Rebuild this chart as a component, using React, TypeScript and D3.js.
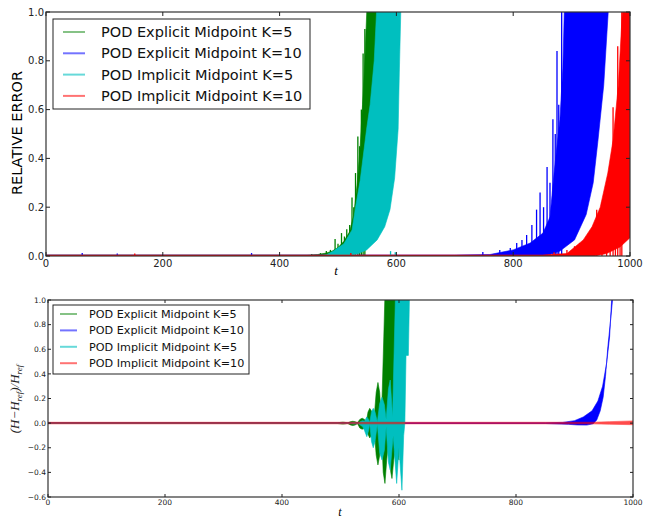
import React, { useEffect, useRef } from 'react';
import * as d3 from 'd3';

type Pt = [number, number];

const seriesNames = [
  'POD Explicit Midpoint K=5',
  'POD Explicit Midpoint K=10',
  'POD Implicit Midpoint K=5',
  'POD Implicit Midpoint K=10',
];
const seriesColors = ['#008000', '#0000ff', '#00bfbf', '#ff0000'];

const tTicks = [0, 200, 400, 600, 800, 1000];
const errTicks = [0.0, 0.2, 0.4, 0.6, 0.8, 1.0];
const hamTicks = [-0.6, -0.4, -0.2, 0.0, 0.2, 0.4, 0.6, 0.8, 1.0];

// top panel: relative error. solid part of each series (upper / lower edge) + isolated spikes [t, peak]
const errExp5Upper: Pt[] = [[0, 0.003], [447, 0.003], [465, 0.006], [480, 0.012], [490, 0.02], [500, 0.035], [510, 0.06], [520, 0.1], [527, 0.17], [533, 0.3], [538, 0.45], [542, 0.62], [546, 0.8], [550, 1.05], [570, 1.05]];
const errExp5Lower: Pt[] = [[0, 0], [525, 0], [540, 0.1], [555, 0.4], [570, 1.05]];
const errExp5Spikes: Pt[] = [[455, 0.008], [470, 0.012], [480, 0.02], [487, 0.025], [495, 0.07], [500, 0.05], [506, 0.094], [511, 0.08], [515, 0.11], [520, 0.127], [524, 0.24], [527, 0.2], [530, 0.34], [534, 0.49], [537, 0.45], [540, 0.6], [543, 0.83], [546, 0.93]];

const errExp10Upper: Pt[] = [[0, 0.004], [700, 0.004], [760, 0.006], [800, 0.025], [829, 0.053], [851, 0.094], [863, 0.16], [870, 0.34], [880, 0.56], [885, 0.77], [888, 1.05], [964, 1.05]];
const errExp10Lower: Pt[] = [[0, 0], [855, 0], [880, 0.02], [905, 0.066], [925, 0.17], [937, 0.3], [945, 0.47], [955, 0.7], [964, 1.05]];
const errExp10Spikes: Pt[] = [[62, 0.012], [122, 0.01], [352, 0.012], [748, 0.016], [777, 0.025], [795, 0.033], [806, 0.053], [815, 0.066], [823, 0.086], [832, 0.127], [840, 0.19], [846, 0.26], [852, 0.2], [858, 0.365], [863, 0.3], [868, 0.56], [872, 0.5], [875, 0.84], [878, 0.62], [883, 1.05]];

const errImp5Upper: Pt[] = [[0, 0.003], [470, 0.003], [480, 0.005], [492, 0.02], [510, 0.05], [524, 0.107], [530, 0.2], [538, 0.31], [549, 0.52], [555, 0.62], [562, 0.8], [567, 1.05], [608, 1.05]];
const errImp5Lower: Pt[] = [[0, 0], [520, 0], [535, 0.01], [549, 0.025], [567, 0.066], [580, 0.12], [589, 0.19], [597, 0.32], [603, 0.52], [605, 0.75], [608, 1.05]];
const errImp5Spikes: Pt[] = [[590, 0.02], [598, 0.015]];

const errImp10Upper: Pt[] = [[0, 0.004], [850, 0.004], [892, 0.01], [920, 0.066], [935, 0.12], [949, 0.2], [962, 0.34], [971, 0.475], [980, 0.7], [988, 1.05], [1000, 1.05]];
const errImp10Lower: Pt[] = [[0, 0], [940, 0], [960, 0.01], [983, 0.037], [1000, 0.075]];
const errImp10Spikes: Pt[] = [[152, 0.01], [522, 0.012], [870, 0.015], [892, 0.025], [905, 0.04], [914, 0.053], [923, 0.07], [931, 0.08], [937, 0.12], [943, 0.19], [952, 0.22], [960, 0.27], [966, 0.35], [971, 0.61], [975, 0.45], [979, 0.86], [983, 0.7], [986, 1.05]];

// bottom panel: relative energy deviation (upper / lower edge of the oscillation)
const hamExp5Upper: Pt[] = [[0, 0.003], [495, 0.003], [500, 0.006], [504, 0.008], [508, 0.006], [512, 0.002], [517, 0.012], [521, 0.015], [525, 0.012], [529, 0.003], [533, 0.03], [537, 0.04], [541, 0.03], [544, 0.005], [547, 0.09], [550, 0.12], [554, 0.09], [557, 0.01], [561, 0.25], [564, 0.33], [567, 0.25], [570, 0.03], [574, 0.7], [576, 1.05], [602, 1.05]];
const hamExp5Lower: Pt[] = [[0, -0.003], [495, -0.003], [500, -0.006], [504, -0.008], [508, -0.006], [512, -0.002], [517, -0.015], [521, -0.02], [525, -0.015], [529, -0.003], [533, -0.04], [537, -0.05], [541, -0.04], [544, -0.005], [547, -0.09], [550, -0.12], [554, -0.09], [557, -0.01], [561, -0.26], [564, -0.34], [567, -0.26], [570, -0.03], [573, -0.4], [576, -0.49], [579, -0.3], [582, -0.15], [586, -0.4], [588, -0.45], [591, -0.3], [594, -0.2], [600, -0.3], [602, 0.2]];

const hamExp10Upper: Pt[] = [[0, 0.003], [850, 0.003], [880, 0.006], [900, 0.02], [915, 0.05], [930, 0.1], [940, 0.18], [948, 0.3], [955, 0.49], [960, 0.7], [964, 1.05]];
const hamExp10Lower: Pt[] = [[0, -0.003], [850, -0.003], [890, -0.01], [905, -0.015], [921, -0.016], [932, -0.005], [938, 0.025], [944, 0.1], [949, 0.21], [953, 0.38], [957, 0.62], [962, 0.85], [966, 1.05]];

const hamImp5Upper: Pt[] = [[0, 0.002], [515, 0.002], [523, 0.006], [530, 0.002], [535, 0.015], [538, 0.02], [541, 0.015], [545, 0.05], [548, 0.03], [550, 0.005], [553, 0.09], [556, 0.12], [559, 0.09], [563, 0.01], [567, 0.16], [571, 0.21], [575, 0.15], [578, 0.03], [582, 0.28], [585, 0.35], [589, 0.05], [594, 1.05], [618, 1.05]];
const hamImp5Lower: Pt[] = [[0, -0.002], [515, -0.002], [523, -0.008], [530, -0.002], [535, -0.02], [538, -0.03], [541, -0.06], [545, -0.11], [548, -0.06], [550, -0.005], [553, -0.15], [556, -0.2], [559, -0.15], [563, -0.01], [567, -0.24], [571, -0.3], [575, -0.22], [578, -0.03], [582, -0.32], [585, -0.38], [590, -0.1], [596, -0.49], [600, -0.2], [605, -0.545], [608, -0.1], [610, 0.0], [612, 0.55], [616, 0.55], [618, 1.05]];

const hamImp10Upper: Pt[] = [[0, 0.007], [930, 0.007], [960, 0.012], [1000, 0.018]];
const hamImp10Lower: Pt[] = [[0, -0.006], [930, -0.006], [960, -0.009], [1000, -0.013]];

const errSeries = [
  [errExp5Upper, errExp5Lower, errExp5Spikes],
  [errExp10Upper, errExp10Lower, errExp10Spikes],
  [errImp5Upper, errImp5Lower, errImp5Spikes],
  [errImp10Upper, errImp10Lower, errImp10Spikes],
];
const hamSeries = [
  [hamExp5Upper, hamExp5Lower, []],
  [hamExp10Upper, hamExp10Lower, []],
  [hamImp5Upper, hamImp5Lower, []],
  [hamImp10Upper, hamImp10Lower, []],
];

export default function App() {
  const ref = useRef<SVGSVGElement>(null);

  useEffect(() => {
    document.body.style.margin = '0';
    const svg = d3.select(ref.current);
    svg.selectAll('*').remove();

    function panel(opts: any) {
      const { id, left, right, top, bottom, yDomain, yTicks, series, tickSize, tickLen, yFmt } = opts;
      const x = d3.scaleLinear().domain([0, 1000]).range([left, right]);
      const y = d3.scaleLinear().domain(yDomain).range([bottom, top]);

      svg.append('clipPath').attr('id', id)
        .append('rect').attr('x', left).attr('y', top)
        .attr('width', right - left).attr('height', bottom - top);

      const g = svg.append('g').attr('clip-path', `url(#${id})`);
      const line = d3.line<Pt>().x(d => x(d[0])).y(d => y(d[1]));

      series.forEach((s: Pt[][], i: number) => {
        const poly = s[0].concat(s[1].slice().reverse());
        const op = opts.alphas ? opts.alphas[i] : 1;
        g.append('path')
          .attr('d', line(poly) + 'Z')
          .attr('fill', seriesColors[i])
          .attr('stroke', seriesColors[i])
          .attr('stroke-width', 0.6)
          .attr('stroke-linejoin', 'round')
          .attr('opacity', op);
        g.selectAll(null).data(s[2]).enter().append('line')
          .attr('x1', d => x(d[0])).attr('x2', d => x(d[0]))
          .attr('y1', y(0)).attr('y2', d => y(d[1]))
          .attr('stroke', seriesColors[i]).attr('stroke-width', 1.3);
      });

      // frame
      svg.append('rect').attr('x', left).attr('y', top)
        .attr('width', right - left).attr('height', bottom - top)
        .attr('fill', 'none').attr('stroke', '#333').attr('stroke-width', 1.2);

      const ax = svg.append('g').attr('font-family', 'DejaVu Sans').attr('font-size', tickSize).attr('fill', '#222');
      tTicks.forEach(t => {
        ax.append('line').attr('x1', x(t)).attr('x2', x(t)).attr('y1', bottom).attr('y2', bottom - tickLen).attr('stroke', '#222');
        ax.append('line').attr('x1', x(t)).attr('x2', x(t)).attr('y1', top).attr('y2', top + tickLen).attr('stroke', '#222');
        ax.append('text').attr('x', x(t)).attr('y', bottom + tickSize * 1.1).attr('text-anchor', 'middle').text(String(t));
      });
      yTicks.forEach((v: number) => {
        ax.append('line').attr('x1', left).attr('x2', left + tickLen).attr('y1', y(v)).attr('y2', y(v)).attr('stroke', '#222');
        ax.append('line').attr('x1', right).attr('x2', right - tickLen).attr('y1', y(v)).attr('y2', y(v)).attr('stroke', '#222');
        ax.append('text').attr('x', left - 2).attr('y', y(v)).attr('dy', '0.35em')
          .attr('text-anchor', 'end').text(yFmt(v));
      });
      return { x, y };
    }

    const fmt = (v: number) => (v < 0 ? '\u2212' : '') + Math.abs(v).toFixed(1);

    // top panel
    panel({
      id: 'clipTop', left: 46, right: 630, top: 12, bottom: 256,
      yDomain: [0, 1], yTicks: errTicks, series: errSeries, tickSize: 10, tickLen: 4, yFmt: fmt,
    });
    svg.append('text').attr('transform', 'translate(22,133) rotate(-90)')
      .attr('text-anchor', 'middle').attr('font-family', 'DejaVu Sans').attr('font-size', 14.5)
      .text('RELATIVE ERROR');
    svg.append('text').attr('x', 336).attr('y', 275).attr('text-anchor', 'middle')
      .attr('font-family', 'Liberation Serif').attr('font-style', 'italic').attr('font-size', 13).text('t');

    // bottom panel
    panel({
      id: 'clipBot', left: 48, right: 633, top: 300, bottom: 497,
      yDomain: [-0.6, 1], yTicks: hamTicks, series: hamSeries, tickSize: 7.5, tickLen: 3, yFmt: fmt,
      alphas: [1, 1, 1, 0.7],
    });
    const yl = svg.append('text').attr('transform', 'translate(19,399) rotate(-90)')
      .attr('text-anchor', 'middle').attr('font-family', 'Liberation Serif').attr('font-style', 'italic')
      .attr('font-size', 13).attr('fill', '#222');
    yl.append('tspan').text('(H\u2212H');
    yl.append('tspan').attr('font-size', 9).attr('dy', 3).text('ref');
    yl.append('tspan').attr('dy', -3).text(')/H');
    yl.append('tspan').attr('font-size', 9).attr('dy', 3).text('ref');
    svg.append('text').attr('x', 340).attr('y', 516).attr('text-anchor', 'middle')
      .attr('font-family', 'Liberation Serif').attr('font-style', 'italic').attr('font-size', 12).text('t');

    // legends
    function legend(bx: number, by: number, bw: number, bh: number, fs: number, row: number, x0: number, x1: number, tx: number, y0: number) {
      const lg = svg.append('g');
      lg.append('rect').attr('x', bx).attr('y', by).attr('width', bw).attr('height', bh)
        .attr('fill', '#fff').attr('stroke', '#222').attr('stroke-width', 1);
      const widths = [1.2, 2, 2, 2];
      const alphas = [0.8, 0.55, 0.6, 0.55];
      seriesNames.forEach((name, i) => {
        const yy = y0 + i * row;
        lg.append('line').attr('x1', x0).attr('x2', x1).attr('y1', yy).attr('y2', yy)
          .attr('stroke', seriesColors[i]).attr('stroke-width', widths[i]).attr('stroke-opacity', alphas[i]);
        lg.append('text').attr('x', tx).attr('y', yy).attr('dy', '0.35em')
          .attr('font-family', 'DejaVu Sans').attr('font-size', fs).attr('fill', '#111').text(name);
      });
    }
    legend(53, 19, 257, 90, 14.5, 21.3, 63, 85, 101, 32);
    legend(53, 305, 196, 69, 11.2, 16.4, 60, 77, 89, 314);
  }, []);

  return <svg ref={ref} width={646} height={520} style={{ display: 'block', background: '#fff' }} />;
}
